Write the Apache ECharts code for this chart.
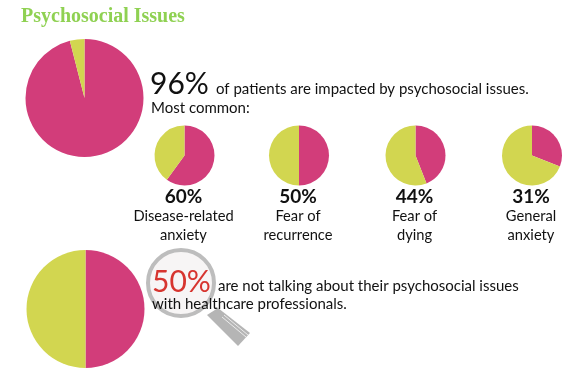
<!DOCTYPE html>
<html>
<head>
<meta charset="utf-8">
<title>Psychosocial Issues</title>
<script src="https://cdn.jsdelivr.net/npm/echarts@6/dist/echarts.min.js"></script>
<style>
html,body{margin:0;padding:0;background:#fff}
#main{width:583px;height:375px}
</style>
</head>
<body>
<div id="main"></div>
<script>
var titleText = 'Psychosocial Issues';
var impactedValues = [96];
var commonValues = [60, 50, 44, 31];
var commonPct = ['60%', '50%', '44%', '31%'];
var commonLine1 = ['Disease-related', 'Fear of', 'Fear of', 'General'];
var commonLine2 = ['anxiety', 'recurrence', 'dying', 'anxiety'];
var talkingValues = [50];

var MAGENTA = '#d23d7a';
var YELLOW = '#d2d650';
var FONT = 'Lato, sans-serif';

function pie(value, cx, cy, r) {
    return {
        type: 'pie',
        center: [cx, cy],
        radius: [0, r],
        startAngle: 90,
        silent: true,
        animation: false,
        label: {show: false},
        labelLine: {show: false},
        itemStyle: {borderWidth: 0},
        data: [
            {value: value, itemStyle: {color: MAGENTA}},
            {value: 100 - value, itemStyle: {color: YELLOW}}
        ]
    };
}

function txt(x, y, str, size, opt) {
    opt = opt || {};
    return {
        type: 'text',
        x: x,
        y: y,
        z: opt.z || 20,
        style: {
            text: str,
            font: (opt.weight || 'normal') + ' ' + size + 'px ' + (opt.family || FONT),
            fill: opt.color || '#111',
            textAlign: opt.align || 'left',
            textVerticalAlign: 'middle'
        }
    };
}

var smallX = [184.5, 299, 415.5, 532];
var series = [pie(impactedValues[0], 84.5, 98, 59), pie(talkingValues[0], 85.5, 309, 59)];
var graphics = [
    txt(21, 17, titleText, 20, {weight: 'bold', family: '"Liberation Serif", serif', color: '#8fd152'}),
    txt(150, 84, '96%', 30),
    txt(216, 89, 'of patients are impacted by psychosocial issues.', 15),
    txt(151, 108, 'Most common:', 15),
    // magnifier
    {type: 'polygon', z: 10, shape: {points: [[207, 315], [218, 308], [250, 333], [238, 346]]},
        style: {fill: '#b5b5b5'}},
    {type: 'line', z: 11, shape: {x1: 224, y1: 315, x2: 248, y2: 335},
        style: {stroke: '#ececec', lineWidth: 1}},
    {type: 'line', z: 11, shape: {x1: 222, y1: 317, x2: 246, y2: 337},
        style: {stroke: '#ececec', lineWidth: 1}},
    {type: 'circle', z: 12, shape: {cx: 181, cy: 283, r: 33},
        style: {fill: '#f7f5f5', stroke: '#bdbdbd', lineWidth: 4}},
    txt(152, 282, '50%', 30, {color: '#d7352f'}),
    txt(218, 286, 'are not talking about their psychosocial issues', 15),
    txt(152, 304, 'with healthcare professionals.', 15)
];

for (var i = 0; i < commonValues.length; i++) {
    series.push(pie(commonValues[i], smallX[i], 155.5, 30));
    graphics.push(txt(smallX[i] - 1, 197, commonPct[i], 19, {weight: 'bold', align: 'center'}));
    graphics.push(txt(smallX[i] - 1, 216, commonLine1[i], 14.7, {align: 'center'}));
    graphics.push(txt(smallX[i] - 1, 235, commonLine2[i], 14.7, {align: 'center'}));
}

var chart = echarts.init(document.getElementById('main'));
chart.setOption({
    backgroundColor: '#fff',
    animation: false,
    series: series,
    graphic: {elements: graphics}
});
</script>
</body>
</html>
